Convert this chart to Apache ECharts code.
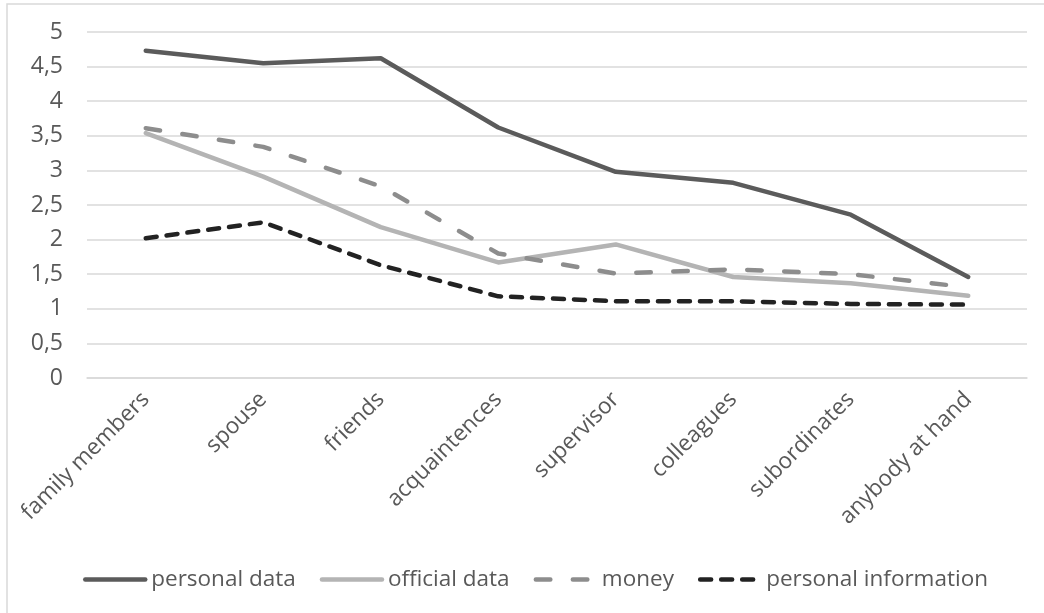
<!DOCTYPE html>
<html>
<head>
<meta charset="utf-8">
<title>Willingness to share, by person</title>
<script src="https://cdn.jsdelivr.net/npm/echarts@6/dist/echarts.min.js"></script>
<style>
  html, body { margin: 0; padding: 0; background: #ffffff; }
  #chart { width: 1044px; height: 613px; }
</style>
</head>
<body>
<div id="chart"></div>
<script>
// Categories along the x axis
const categories = ['family members', 'spouse', 'friends', 'acquaintences', 'supervisor', 'colleagues', 'subordinates', 'anybody at hand'];

// Mean ratings per category
const personalData = [4.73, 4.55, 4.62, 3.62, 2.98, 2.82, 2.36, 1.46];
const officialData = [3.54, 2.91, 2.18, 1.67, 1.93, 1.46, 1.37, 1.19];
const money = [3.61, 3.34, 2.77, 1.80, 1.51, 1.57, 1.50, 1.31];
const personalInformation = [2.02, 2.25, 1.63, 1.18, 1.11, 1.11, 1.07, 1.06];

const seriesNames = ['personal data', 'official data', 'money', 'personal information'];

const FONT = '"Open Sans", "Noto Sans", sans-serif';
const TEXT = '#595959';
const LINE_W = 4.5;

const styles = [
  { color: '#5b5b5b', type: 'solid' },
  { color: '#b4b4b4', type: 'solid' },
  { color: '#8d8d8d', type: [14.5, 22.5] },
  { color: '#222222', type: [11, 10] }
];

const chart = echarts.init(document.getElementById('chart'), null, { renderer: 'canvas' });

function lineStyleOf(i) {
  return { color: styles[i].color, width: LINE_W, type: styles[i].type, cap: 'round', join: 'round' };
}

function lineSeries(i, data) {
  return {
    name: seriesNames[i],
    type: 'line',
    data: data,
    symbol: 'none',
    smooth: false,
    lineStyle: lineStyleOf(i),
    itemStyle: { color: styles[i].color }
  };
}

chart.setOption({
  animation: false,
  backgroundColor: '#ffffff',
  textStyle: { fontFamily: FONT },
  graphic: [{
    type: 'rect',
    silent: true,
    z: -1,
    shape: { x: 7, y: 4, width: 1200, height: 800 },
    style: { fill: 'none', stroke: '#d9d9d9', lineWidth: 1.5 }
  }],
  grid: { left: 87, right: 17, top: 32, bottom: 235, containLabel: false },
  legend: {
    // legend keys show only the line stroke of each series
    data: seriesNames.map((n, i) => ({
      name: n,
      lineStyle: lineStyleOf(i),
      itemStyle: { opacity: 0, borderWidth: 0 }
    })),
    top: 563,
    left: 78,
    itemWidth: 60,
    itemHeight: 14,
    itemGap: 24,
    itemStyle: { opacity: 0, borderWidth: 0 },
    textStyle: { fontFamily: FONT, fontSize: 22.5, color: TEXT, padding: [0, 0, 0, 1] }
  },
  xAxis: {
    type: 'category',
    data: categories,
    boundaryGap: true,
    axisLine: { show: true, lineStyle: { color: '#d9d9d9', width: 1.5 } },
    axisTick: { show: false },
    axisLabel: {
      rotate: 45,
      interval: 0,
      margin: 18,
      fontFamily: FONT,
      fontSize: 22.5,
      color: TEXT
    },
    splitLine: { show: false }
  },
  yAxis: {
    type: 'value',
    min: 0,
    max: 5,
    interval: 0.5,
    axisLine: { show: false },
    axisTick: { show: false },
    axisLabel: {
      margin: 24,
      fontFamily: FONT,
      fontSize: 23,
      color: TEXT,
      formatter: v => String(v).replace('.', ',')
    },
    splitLine: { show: true, lineStyle: { color: '#d9d9d9', width: 1.5 } }
  },
  series: [
    lineSeries(0, personalData),
    lineSeries(1, officialData),
    lineSeries(2, money),
    lineSeries(3, personalInformation)
  ]
});
</script>
</body>
</html>
